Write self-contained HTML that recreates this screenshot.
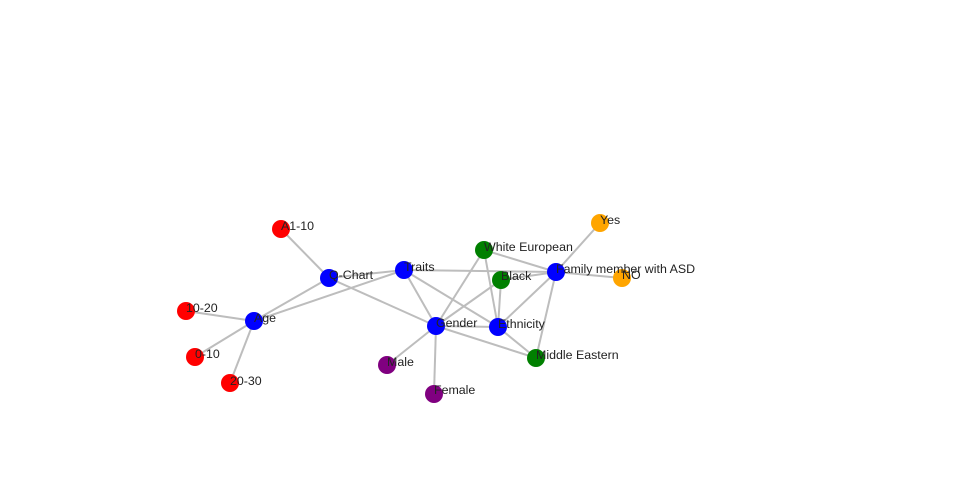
<!DOCTYPE html>
<html><head><meta charset="utf-8"><style>body{margin:0;background:#fff}svg{display:block}text{font-family:"Liberation Sans",sans-serif;font-size:12.4px;fill:#222}</style></head>
<body><svg width="960" height="500" viewBox="0 0 960 500">
<g stroke="#bdbdbd" stroke-width="2">
<line x1="281" y1="229" x2="329" y2="278"/>
<line x1="329" y1="278" x2="254" y2="321"/>
<line x1="329" y1="278" x2="404" y2="270"/>
<line x1="329" y1="278" x2="436" y2="326"/>
<line x1="254" y1="321" x2="404" y2="270"/>
<line x1="254" y1="321" x2="186" y2="311"/>
<line x1="254" y1="321" x2="195" y2="357"/>
<line x1="254" y1="321" x2="230" y2="383"/>
<line x1="404" y1="270" x2="436" y2="326"/>
<line x1="404" y1="270" x2="498" y2="327"/>
<line x1="404" y1="270" x2="556" y2="272"/>
<line x1="484" y1="250" x2="436" y2="326"/>
<line x1="484" y1="250" x2="498" y2="327"/>
<line x1="484" y1="250" x2="556" y2="272"/>
<line x1="501" y1="280" x2="436" y2="326"/>
<line x1="501" y1="280" x2="498" y2="327"/>
<line x1="501" y1="280" x2="556" y2="272"/>
<line x1="556" y1="272" x2="600" y2="223"/>
<line x1="556" y1="272" x2="622" y2="278"/>
<line x1="556" y1="272" x2="498" y2="327"/>
<line x1="556" y1="272" x2="536" y2="358"/>
<line x1="436" y1="326" x2="498" y2="327"/>
<line x1="436" y1="326" x2="536" y2="358"/>
<line x1="498" y1="327" x2="536" y2="358"/>
<line x1="436" y1="326" x2="387" y2="365"/>
<line x1="436" y1="326" x2="434" y2="394"/>
</g>
<g>
<circle cx="281" cy="229" r="9" fill="#f00"/><circle cx="186" cy="311" r="9" fill="#f00"/><circle cx="195" cy="357" r="9" fill="#f00"/><circle cx="230" cy="383" r="9" fill="#f00"/>
<circle cx="329" cy="278" r="9" fill="#00f"/><circle cx="254" cy="321" r="9" fill="#00f"/><circle cx="404" cy="270" r="9" fill="#00f"/><circle cx="556" cy="272" r="9" fill="#00f"/><circle cx="436" cy="326" r="9" fill="#00f"/><circle cx="498" cy="327" r="9" fill="#00f"/>
<circle cx="484" cy="250" r="9" fill="#008000"/><circle cx="501" cy="280" r="9" fill="#008000"/><circle cx="536" cy="358" r="9" fill="#008000"/>
<circle cx="600" cy="223" r="9" fill="#ffa500"/><circle cx="622" cy="278" r="9" fill="#ffa500"/>
<circle cx="387" cy="365" r="9" fill="#800080"/><circle cx="434" cy="394" r="9" fill="#800080"/>
</g>
<g>
<text x="281" y="230">A1-10</text><text x="186" y="312">10-20</text><text x="195" y="358">0-10</text><text x="230" y="385">20-30</text>
<text x="329" y="279">Q-Chart</text><text x="254" y="322">Age</text><text x="404" y="271">Traits</text><text x="556" y="273">Family member with ASD</text>
<text x="436" y="327">Gender</text><text x="498" y="328">Ethnicity</text><text x="484" y="251">White European</text><text x="501" y="280">Black</text>
<text x="536" y="359">Middle Eastern</text><text x="600" y="224">Yes</text><text x="622" y="279">NO</text><text x="387" y="366">Male</text><text x="434" y="394">Female</text>
</g>
</svg></body></html>
